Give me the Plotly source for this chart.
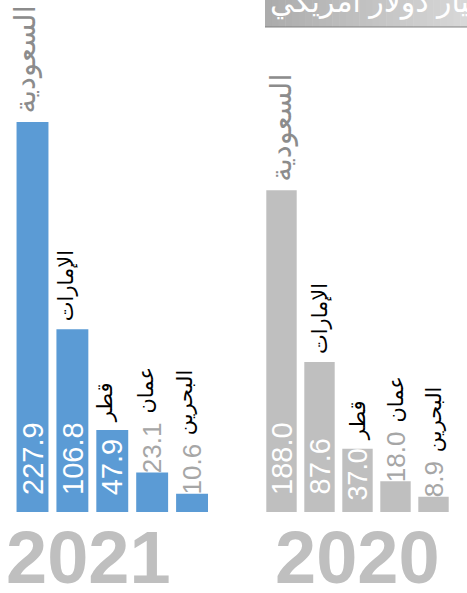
import plotly.graph_objects as go

countries = ["السعودية", "الإمارات", "قطر", "عمان", "البحرين"]
years = ["2021", "2020"]
values_2021 = [227.9, 106.8, 47.9, 23.1, 10.6]
values_2020 = [188.0, 87.6, 37.0, 18.0, 8.9]
unit_label = "مليار دولار أمريكي"

W, H = 467, 593
PLOT_H = 512
PX_PER_UNIT = 1.711

BLUE = "#5B9BD5"
GREY_BAR = "#BFBFBF"
VAL_OUT = "#A6A6A6"
NUM_FONT = "Liberation Sans, Arial"
AR_FONT = "Arial, DejaVu Sans, sans-serif"


def text_em(s):
    # approximate Arial advance width of a numeric label, in em
    return sum(0.278 if ch == "." else 0.556 for ch in s)


fig = go.Figure()
groups = [(values_2021, BLUE, "x", [7 / W, 212 / W], -7),
          (values_2020, GREY_BAR, "x2", [262.5 / W, 452.5 / W], 0)]

annotations = []
for gi, (vals, color, xa, dom, xs) in enumerate(groups):
    fig.add_trace(go.Bar(x=countries, y=vals, marker=dict(color=color, line=dict(width=0)),
                         xaxis=xa, yaxis="y", hoverinfo="skip", showlegend=False))
    for i, (c, v) in enumerate(zip(countries, vals)):
        label = f"{v:.1f}"
        bar_px = v * PX_PER_UNIT
        inside = v > 30
        if inside:
            size, shift = 29, 15
            if text_em(label) * size + shift + 2 > bar_px:
                shift = 9
                size = min(29, (bar_px - shift - 2) / text_em(label))
            annotations.append(dict(x=c, y=0, xref=xa, yref="y", text=label, textangle=-90,
                                    yanchor="bottom", xanchor="center", yshift=shift, showarrow=False,
                                    font=dict(family=NUM_FONT, size=size, color="white")))
            lab_shift = 6
        else:
            size = 26
            annotations.append(dict(x=c, y=v, xref=xa, yref="y", text=label, textangle=-90,
                                    yanchor="bottom", xanchor="center", yshift=-3, showarrow=False,
                                    font=dict(family=NUM_FONT, size=size, color=VAL_OUT)))
            lab_shift = text_em(label) * size + 6
        is_first = i == 0
        annotations.append(dict(x=c, y=v, xref=xa, yref="y", text=c, textangle=-90,
                                yanchor="bottom", xanchor="center", yshift=lab_shift, xshift=xs,
                                showarrow=False,
                                font=dict(family=AR_FONT, size=29 if is_first else 21,
                                          color="#8C8C8C" if is_first else "black")))

# year labels
for yr, xc in zip(years, [88.5, 357]):
    annotations.append(dict(x=xc / W, y=(PLOT_H - 557) / PLOT_H, xref="paper", yref="paper",
                            text=yr, showarrow=False, xanchor="center", yanchor="middle",
                            font=dict(family="Liberation Sans, Arial", size=74, color=GREY_BAR,
                                      weight="bold")))

# unit banner (cut off at the top of the picture)
shapes = []
n = 30
x0p, x1p = 265, W
for k in range(n):
    t = k / (n - 1)
    g = int(172 + (216 - 172) * t)
    shapes.append(dict(type="rect", xref="paper", yref="paper",
                       x0=(x0p + (x1p - x0p) * k / n) / W, x1=(x0p + (x1p - x0p) * (k + 1) / n + 0.5) / W,
                       y0=(PLOT_H - 27) / PLOT_H, y1=1.1,
                       fillcolor=f"rgb({g},{g},{g})", line=dict(width=0), layer="below"))
shapes.append(dict(type="rect", xref="paper", yref="paper", x0=x0p / W, x1=1,
                   y0=(PLOT_H - 28) / PLOT_H, y1=(PLOT_H - 26) / PLOT_H,
                   fillcolor="rgba(120,120,120,0.45)", line=dict(width=0), layer="below"))
annotations.append(dict(x=268 / W, y=1, xref="paper", yref="paper", text=unit_label,
                        showarrow=False, xanchor="left", yanchor="middle", yshift=0,
                        font=dict(family=AR_FONT, size=30, color="white")))

fig.update_layout(
    width=W, height=H,
    margin=dict(l=0, r=0, t=0, b=H - PLOT_H),
    paper_bgcolor="white", plot_bgcolor="white",
    bargap=0.2,
    xaxis=dict(domain=groups[0][3], visible=False, fixedrange=True),
    xaxis2=dict(domain=groups[1][3], visible=False, fixedrange=True, anchor="y"),
    yaxis=dict(range=[0, PLOT_H / PX_PER_UNIT], visible=False, fixedrange=True),
    annotations=annotations,
    shapes=shapes,
    showlegend=False,
)

fig.write_html("out.html", config={"displayModeBar": False},
               post_script="document.body.style.margin='0';document.body.style.overflow='hidden';")
